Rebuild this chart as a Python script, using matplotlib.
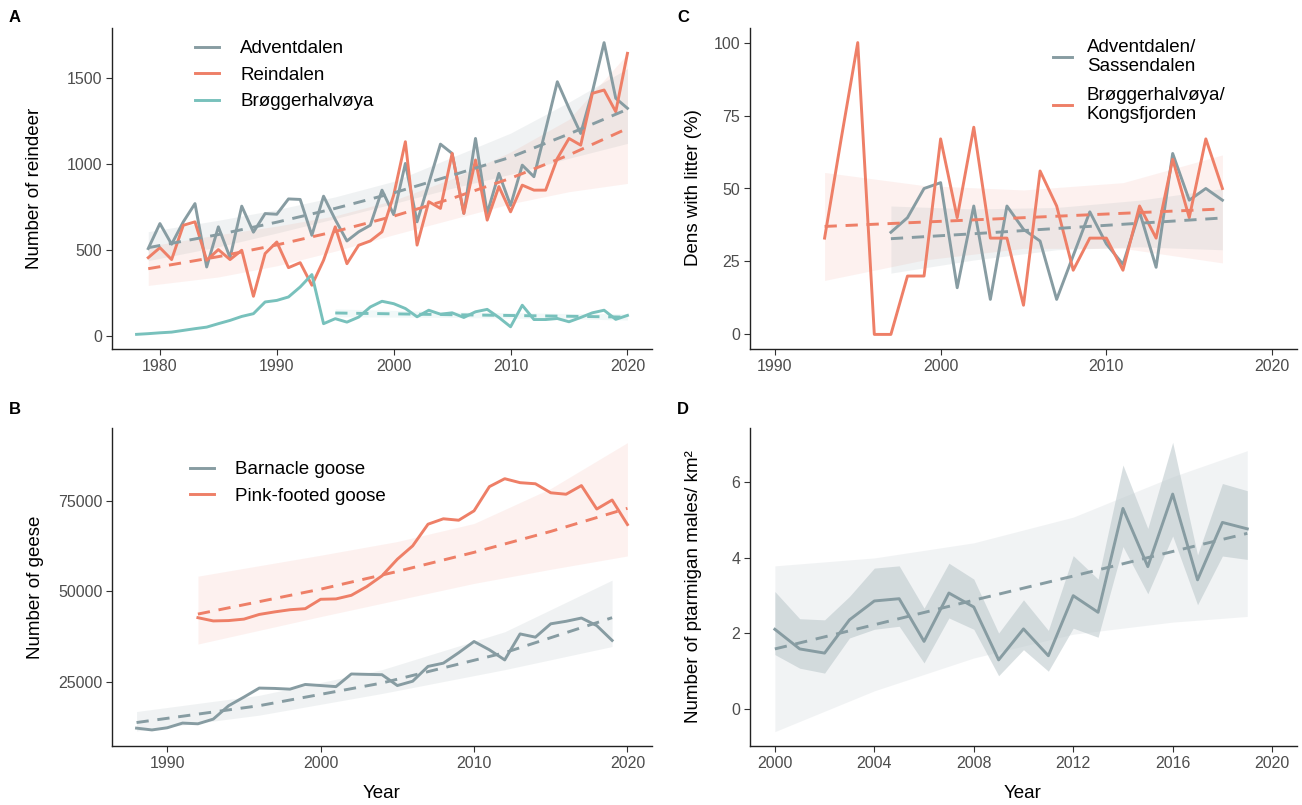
import numpy as np
import matplotlib
matplotlib.use('Agg')
import matplotlib.pyplot as plt

plt.rcParams['font.family'] = ['Liberation Sans', 'DejaVu Sans']

GRAY = '#879ca2'
RED = '#ee7f67'
TEAL = '#78c1bc'

# ---- A: reindeer counts
years_adv = list(range(1979, 2021))
adventdalen = [510, 655, 535, 665, 771, 403, 636, 457, 756, 605, 713, 709, 798, 795, 587,
               814, 678, 554, 607, 645, 849, 707, 1004, 665, 888, 1116, 1062, 714, 1149, 714,
               946, 760, 994, 927, 1200, 1478, 1324, 1178, 1420, 1705, 1382, 1324]
reindalen = [457, 515, 446, 645, 665, 442, 504, 446, 500, 233, 481, 548, 399, 428, 297,
             442, 636, 422, 529, 554, 607, 820, 1130, 530, 782, 743, 1062, 714, 1024, 675,
             870, 723, 878, 849, 849, 1033, 1149, 1110, 1411, 1430, 1304, 1643]
years_brog = list(range(1978, 2021))
broggerhalvoya = [12, 16, 21, 25, 35, 45, 54, 74, 93, 116, 132, 200, 209, 229, 287, 359, 74,
                  103, 83, 112, 171, 204, 190, 162, 114, 152, 129, 137, 110, 143, 157, 110,
                  56, 181, 98, 98, 104, 85, 110, 137, 152, 99, 122]

# fitted trends + 95% bands
fit_years_a = [1979, 1985, 1990, 1995, 2000, 2005, 2010, 2015, 2020]
adv_fit = [515, 591, 663, 743, 833, 935, 1040, 1175, 1318]
adv_lo = [440, 520, 600, 684, 771, 860, 941, 1034, 1120]
adv_hi = [608, 674, 736, 810, 900, 1040, 1180, 1360, 1555]
rei_fit = [393, 463, 531, 609, 698, 801, 918, 1053, 1207]
rei_lo = [296, 345, 410, 495, 590, 680, 770, 840, 888]
rei_hi = [523, 590, 640, 700, 790, 915, 1070, 1260, 1640]
fit_years_brog = [1995, 2005, 2015, 2020]
brog_fit = [136, 126, 117, 112]
brog_lo = [114, 110, 102, 95]
brog_hi = [160, 142, 133, 132]

# ---- B: geese
years_pink = list(range(1992, 2021))
pinkfoot = [42700, 41800, 41900, 42300, 43600, 44300, 44900, 45200, 47800, 47900, 48900,
            51300, 54300, 58900, 62600, 68600, 70100, 69700, 72300, 79000, 81200, 80100,
            79800, 77300, 76900, 79300, 72800, 75300, 68500]
years_barn = list(range(1988, 2020))
barnacle = [12100, 11600, 12200, 13500, 13300, 14600, 18300, 20700, 23200, 23100, 22900,
            24200, 23900, 23600, 27100, 27000, 26900, 23900, 25100, 29200, 30100, 33000,
            36100, 33800, 31000, 38200, 37300, 41000, 41700, 42600, 40500, 36400]
fit_years_pink = [1992, 2000, 2005, 2010, 2015, 2020]
pink_fit = [43700, 50600, 55500, 60800, 66600, 73000]
pink_lo = [35400, 43000, 47600, 52200, 56100, 59800]
pink_hi = [54200, 60000, 63800, 68800, 78500, 91200]
fit_years_barn = [1988, 1996, 2004, 2012, 2019]
barn_fit = [13650, 18320, 24600, 33000, 42700]
barn_lo = [11300, 15700, 21700, 28300, 34700]
barn_hi = [16700, 21200, 28300, 38800, 53100]

# ---- C: fox dens with litter
years_dens_brog = list(range(1993, 2018))
dens_brog = [33, 67, 100, 0, 0, 20, 20, 67, 40, 71, 33, 33, 10, 56, 44, 22, 33, 33, 22, 44,
             33, 60, 40, 67, 50]
years_dens_adv = list(range(1997, 2018))
dens_adv = [35, 40, 50, 52, 16, 44, 12, 44, 36, 32, 12, 27, 42, 31, 24, 42, 23, 62, 46, 50, 46]
fit_years_dbrog = [1993, 1999, 2005, 2011, 2017]
dbrog_fit = [37, 38.5, 40, 41.5, 43]
dbrog_lo = [18.5, 25.5, 29.5, 29.5, 24.5]
dbrog_hi = [55.5, 51, 49.5, 52, 61.5]
fit_years_dadv = [1997, 2002, 2007, 2012, 2017]
dadv_fit = [32.8, 34.5, 36.3, 38.1, 39.9]
dadv_lo = [21, 25.5, 29, 30, 29]
dadv_hi = [44, 43, 43.5, 46, 50]

# ---- D: ptarmigan
years_ptarm = list(range(2000, 2020))
ptarm = [2.11, 1.59, 1.48, 2.36, 2.86, 2.92, 1.79, 3.07, 2.70, 1.30, 2.12, 1.41, 3.00, 2.56,
         5.31, 3.77, 5.69, 3.42, 4.94, 4.77]
ptarm_lo = [1.44, 1.08, 0.95, 1.88, 2.11, 2.19, 1.22, 2.41, 2.11, 0.88, 1.57, 1.00, 2.14, 1.90,
            4.30, 3.05, 4.58, 2.76, 4.05, 3.96]
ptarm_hi = [3.11, 2.39, 2.36, 2.98, 3.73, 3.79, 2.67, 3.86, 3.44, 2.01, 2.89, 2.08, 4.06, 3.44,
            6.46, 4.78, 7.06, 4.08, 5.97, 5.78]
fit_years_ptarm = [2000, 2004, 2008, 2012, 2016, 2019]
ptarm_fit = [1.59, 2.23, 2.88, 3.52, 4.17, 4.65]
ptarm_flo = [-0.6, 0.48, 1.35, 1.98, 2.3, 2.45]
ptarm_fhi = [3.79, 4.0, 4.4, 5.08, 6.15, 6.84]

W, H = 1302, 805
fig = plt.figure(figsize=(W / 100, H / 100), dpi=100)


def make_ax(x0, x1, y0, y1):
    ax = fig.add_axes([x0 / W, 1 - y1 / H, (x1 - x0) / W, (y1 - y0) / H])
    for s in ['top', 'right']:
        ax.spines[s].set_visible(False)
    for s in ['left', 'bottom']:
        ax.spines[s].set_color('#222222')
        ax.spines[s].set_linewidth(1.0)
    ax.tick_params(length=4, width=0.8, color='#333333', labelcolor='#4d4d4d',
                   labelsize=11.5, pad=3)
    return ax


dash = (0, (4.2, 3))
lw = 2.1

axA = make_ax(112, 652, 28, 349)
axB = make_ax(112, 652, 428, 746)
axC = make_ax(750, 1297, 28, 349)
axD = make_ax(750, 1297, 428, 746)

leg_kw = dict(frameon=False, fontsize=13.5, handlelength=1.3, handletextpad=1.1,
              labelspacing=0.5, borderaxespad=0)

# A
axA.fill_between(fit_years_a, adv_lo, adv_hi, color=GRAY, alpha=0.12, lw=0)
axA.fill_between(fit_years_a, rei_lo, rei_hi, color=RED, alpha=0.1, lw=0)
axA.fill_between(fit_years_brog, brog_lo, brog_hi, color=TEAL, alpha=0.1, lw=0)
axA.plot(years_adv, adventdalen, color=GRAY, lw=lw, label='Adventdalen')
axA.plot(years_adv, reindalen, color=RED, lw=lw, label='Reindalen')
axA.plot(years_brog, broggerhalvoya, color=TEAL, lw=lw, label='Brøggerhalvøya')
axA.plot(fit_years_a, adv_fit, color=GRAY, lw=lw, ls=dash)
axA.plot(fit_years_a, rei_fit, color=RED, lw=lw, ls=dash)
axA.plot(fit_years_brog, brog_fit, color=TEAL, lw=lw, ls=dash)
axA.set_xlim(1975.9, 2022.1)
axA.set_ylim(-73, 1790)
axA.set_xticks([1980, 1990, 2000, 2010, 2020])
axA.set_yticks([0, 500, 1000, 1500])
axA.legend(loc='upper left', bbox_to_anchor=(0.14, 0.985), **leg_kw)

# B
axB.fill_between(fit_years_barn, barn_lo, barn_hi, color=GRAY, alpha=0.12, lw=0)
axB.fill_between(fit_years_pink, pink_lo, pink_hi, color=RED, alpha=0.1, lw=0)
axB.plot(years_barn, barnacle, color=GRAY, lw=lw, label='Barnacle goose')
axB.plot(years_pink, pinkfoot, color=RED, lw=lw, label='Pink-footed goose')
axB.plot(fit_years_barn, barn_fit, color=GRAY, lw=lw, ls=dash)
axB.plot(fit_years_pink, pink_fit, color=RED, lw=lw, ls=dash)
axB.set_xlim(1986.4, 2021.6)
axB.set_ylim(7150, 95250)
axB.set_xticks([1990, 2000, 2010, 2020])
axB.set_yticks([25000, 50000, 75000])
axB.legend(loc='upper left', bbox_to_anchor=(0.13, 0.92), **leg_kw)

# C
axC.fill_between(fit_years_dbrog, dbrog_lo, dbrog_hi, color=RED, alpha=0.1, lw=0)
axC.fill_between(fit_years_dadv, dadv_lo, dadv_hi, color=GRAY, alpha=0.12, lw=0)
axC.plot(years_dens_adv, dens_adv, color=GRAY, lw=lw, label='Adventdalen/\nSassendalen')
axC.plot(years_dens_brog, dens_brog, color=RED, lw=lw, label='Brøggerhalvøya/\nKongsfjorden')
axC.plot(fit_years_dadv, dadv_fit, color=GRAY, lw=lw, ls=dash)
axC.plot(fit_years_dbrog, dbrog_fit, color=RED, lw=lw, ls=dash)
axC.set_xlim(1988.5, 2021.5)
axC.set_ylim(-5, 105)
axC.set_xticks([1990, 2000, 2010, 2020])
axC.set_yticks([0, 25, 50, 75, 100])
axC.legend(loc='upper left', bbox_to_anchor=(0.54, 0.99), frameon=False, fontsize=13.5,
           handlelength=1.0, handletextpad=0.8, labelspacing=0.6, borderaxespad=0)

# D
axD.fill_between(fit_years_ptarm, ptarm_flo, ptarm_fhi, color='#e9ecee', alpha=0.6, lw=0)
axD.fill_between(years_ptarm, ptarm_lo, ptarm_hi, color='#b9c6ca', alpha=0.55, lw=0)
axD.plot(fit_years_ptarm, ptarm_fit, color=GRAY, lw=lw, ls=dash)
axD.plot(years_ptarm, ptarm, color=GRAY, lw=lw)
axD.set_xlim(1999, 2021)
axD.set_ylim(-0.98, 7.44)
axD.set_xticks([2000, 2004, 2008, 2012, 2016, 2020])
axD.set_yticks([0, 2, 4, 6])

# axis titles
lab = dict(fontsize=13.5, color='black')
fig.text(35 / W, 1 - 188 / H, 'Number of reindeer', rotation=90, ha='center', va='center', **lab)
fig.text(35 / W, 1 - 587 / H, 'Number of geese', rotation=90, ha='center', va='center', **lab)
fig.text(693 / W, 1 - 188 / H, 'Dens with litter (%)', rotation=90, ha='center', va='center', **lab)
fig.text(693 / W, 1 - 587 / H, 'Number of ptarmigan males/ km²', rotation=90, ha='center',
         va='center', **lab)
fig.text(382 / W, 1 - 793 / H, 'Year', ha='center', va='center', **lab)
fig.text(1023 / W, 1 - 793 / H, 'Year', ha='center', va='center', **lab)

# panel letters
for txt, x, y in [('A', 15, 18), ('B', 15, 410), ('C', 683, 18), ('D', 683, 410)]:
    fig.text(x / W, 1 - y / H, txt, fontsize=12, fontweight='bold', ha='center', va='center')

fig.savefig('out.png', dpi=100)
